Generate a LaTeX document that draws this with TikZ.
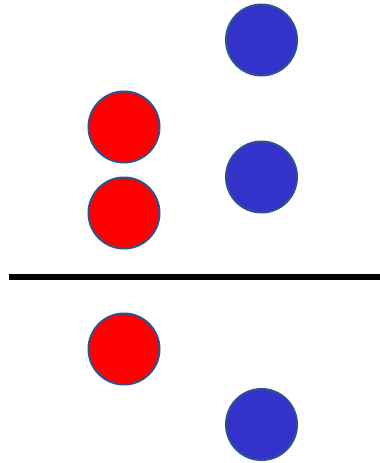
\documentclass[tikz,border=0pt]{standalone}
\usepackage{xcolor}
\usepackage{tikz}
\definecolor{ballred}{HTML}{FF0000}
\definecolor{ballblue}{HTML}{3333CC}
\definecolor{rim}{HTML}{2F528F}
\tikzset{
  ball/.style  ={circle, draw=rim, line width=2pt, inner sep=0pt, minimum size=71pt},
  redball/.style ={ball, fill=ballred},
  blueball/.style={ball, fill=ballblue},
  split/.style ={draw=black, line width=6pt},
}

\begin{document}
\begin{tikzpicture}[x=1pt,y=-1pt]
  \useasboundingbox (0,0) rectangle (380,463);
  % above the line
  \node[blueball] (b0) at (261.5,40) {};
  \node[blueball] (b1) at (261.5,177) {};
  \foreach \i/\y in {0/127,1/213}
    \node[redball] (r\i) at (124,\y) {};
  % dividing line
  \coordinate (lineL) at (9,276.5);
  \coordinate (lineR) at (380,276.5);
  \draw[split] (lineL) -- (lineR);
  % below the line
  \node[redball] (r2) at (124,349) {};
  \node[blueball] (b2) at (261.5,424.5) {};
\end{tikzpicture}
\end{document}
